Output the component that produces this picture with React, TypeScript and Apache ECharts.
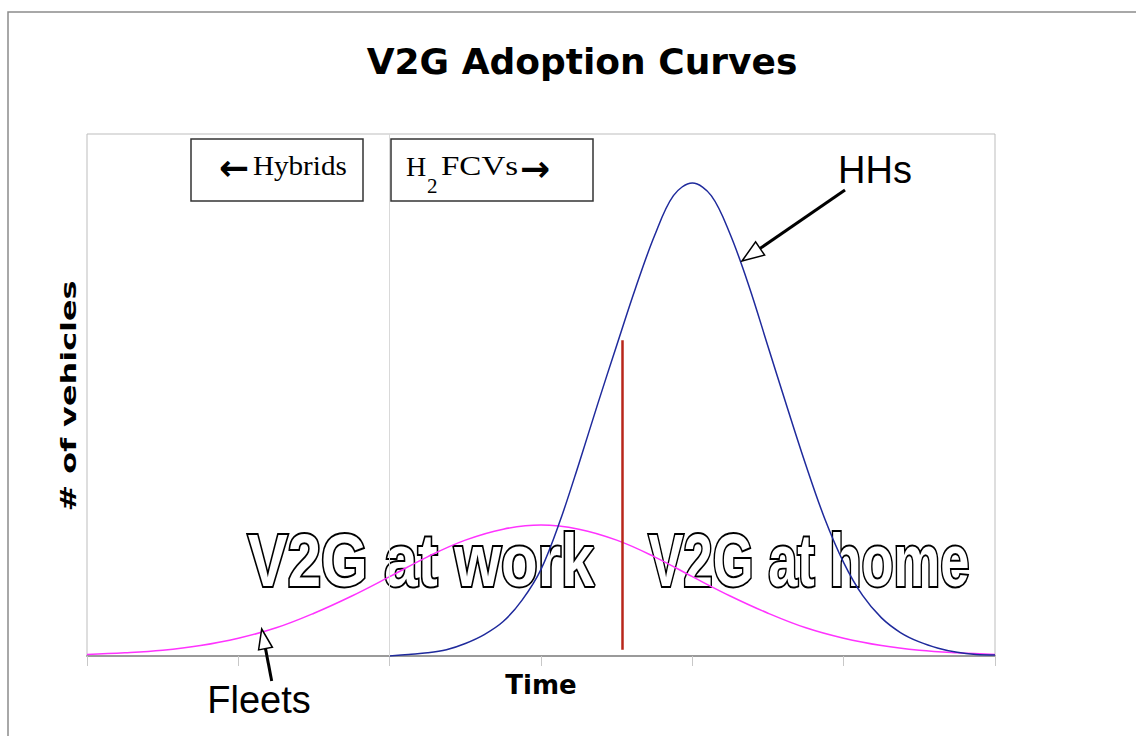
import React, { useEffect, useRef } from "react";
import * as echarts from "echarts";

// Time axis (arbitrary units, ticks at every unit)
const timeMin = 0;
const timeMax = 6;

// Fleets adoption curve
const fleetX = [0, 0.25, 0.5, 0.75, 1, 1.25, 1.5, 1.75, 2, 2.25, 2.5, 2.75, 3, 3.25, 3.5, 3.75, 4, 4.25, 4.5, 4.75, 5, 5.25, 5.5, 5.75, 6];
const fleetY = [0.3, 0.6, 1.1, 2.0, 3.4, 5.4, 8.2, 11.5, 15.2, 19.0, 22.2, 24.3, 25.1, 24.3, 22.2, 19.0, 15.2, 11.5, 8.2, 5.4, 3.4, 2.0, 1.1, 0.6, 0.3];

// Households (HHs) adoption curve
const hhX = [2, 2.125, 2.25, 2.375, 2.5, 2.625, 2.75, 2.875, 3, 3.125, 3.25, 3.375, 3.5, 3.625, 3.75, 3.875, 4, 4.125, 4.25, 4.375, 4.5, 4.625, 4.75, 4.875, 5, 5.125, 5.25, 5.375, 5.5, 5.625, 5.75, 5.875, 6];
const hhY = [0, 0.3, 0.6, 1.2, 2.4, 4.1, 6.6, 10.7, 16.6, 25.8, 36.8, 48.3, 59.5, 70.5, 80.5, 88.2, 90.6, 88.2, 80.8, 70.8, 59.3, 47.8, 36.6, 26.3, 17.9, 11.6, 7.3, 4.5, 2.7, 1.5, 0.7, 0.3, 0.2];

// Hybrids / H2FCVs boundary (vertical gridline) and V2G work/home divider
const techBoundaryX = 2;
const dividerX = 3.535;
const dividerTop = 60.5;
const dividerBottom = 1.2;

const SERIF = "'Liberation Serif', 'Times New Roman', serif";
const SANS = "'Liberation Sans', Arial, sans-serif";
const DEJAVU = "'DejaVu Sans', sans-serif";

export default function App() {
  const ref = useRef<HTMLDivElement>(null);

  useEffect(() => {
    if (!ref.current) return;
    const chart = echarts.init(ref.current, null, { renderer: "svg" });

    const fleets = fleetX.map((x, i) => [x, fleetY[i]]);
    const hhs = hhX.map((x, i) => [x, hhY[i]]);

    const outline = (text: string, x: number, sx: number) => ({
      type: "text",
      x,
      y: 560,
      scaleX: sx,
      z: 1,
      style: {
        text,
        font: "bold 75px " + SANS,
        fill: "#ffffff",
        stroke: "#000000",
        lineWidth: 4,
        textAlign: "center",
        textVerticalAlign: "middle",
      },
    });

    const label = (text: string, x: number, y: number, font: string, extra: any = {}) => ({
      type: "text",
      z: 2,
      x,
      y,
      ...extra,
      style: {
        text,
        font,
        fill: "#000",
        textAlign: "left",
        textVerticalAlign: "middle",
      },
    });

    chart.setOption({
      animation: false,
      backgroundColor: "#ffffff",
      title: {
        text: "V2G Adoption Curves",
        left: 577,
        top: 38,
        textAlign: "center",
        textStyle: {
          fontFamily: DEJAVU,
          fontWeight: "bold",
          fontSize: 36,
          color: "#000",
        },
      },
      grid: {
        left: 87,
        top: 134,
        width: 908,
        height: 522,
        show: true,
        borderColor: "#bdbdbd",
        borderWidth: 1,
        backgroundColor: "transparent",
      },
      xAxis: {
        type: "value",
        min: timeMin,
        max: timeMax,
        interval: 1,
        name: "Time",
        nameLocation: "middle",
        nameGap: 16,
        nameTextStyle: {
          fontFamily: DEJAVU,
          fontWeight: "bold",
          fontSize: 26,
          color: "#000",
          verticalAlign: "top",
        },
        axisLine: { show: true, lineStyle: { color: "#9a9a9a", width: 2 } },
        axisTick: { show: true, length: 10, lineStyle: { color: "#c8c8c8", width: 1 } },
        axisLabel: { show: false },
        splitLine: { show: false },
      },
      yAxis: {
        type: "value",
        min: 0,
        max: 100,
        axisLine: { show: false },
        axisTick: { show: false },
        axisLabel: { show: false },
        splitLine: { show: false },
      },
      series: [
        {
          name: "Fleets",
          type: "line",
          data: fleets,
          smooth: 0.4,
          symbol: "none",
          lineStyle: { color: "#ff33ff", width: 1.5 },
          z: 3,
          markLine: {
            silent: true,
            symbol: "none",
            label: { show: false },
            lineStyle: { color: "#d9d9d9", width: 1, type: "solid" },
            data: [{ xAxis: techBoundaryX }],
          },
        },
        {
          name: "HHs",
          type: "line",
          data: hhs,
          smooth: 0.35,
          symbol: "none",
          lineStyle: { color: "#1f2a9c", width: 1.5 },
          z: 4,
          markLine: {
            silent: true,
            symbol: "none",
            label: { show: false },
            lineStyle: { color: "#b8261a", width: 2.5, type: "solid" },
            data: [
              [
                { coord: [dividerX, dividerTop] },
                { coord: [dividerX, dividerBottom] },
              ],
            ],
          },
        },
      ],
      graphic: [
        {
          type: "rect",
          z: 0,
          shape: { x: 8, y: 12, width: 1300, height: 900 },
          style: { fill: "none", stroke: "#8c8c8c", lineWidth: 1.5 },
        },
        {
          type: "rect",
          z: 1,
          shape: { x: 191, y: 139, width: 172, height: 62 },
          style: { fill: "#ffffff", stroke: "#333333", lineWidth: 1.5 },
        },
        {
          type: "rect",
          z: 1,
          shape: { x: 391, y: 139, width: 202, height: 62 },
          style: { fill: "#ffffff", stroke: "#333333", lineWidth: 1.5 },
        },
        label("←", 219, 167, "bold 36px " + DEJAVU),
        label("Hybrids", 253, 166, "28px " + SERIF, { scaleX: 1.04 }),
        label("H", 406, 166, "28px " + SERIF),
        label("2", 427, 186, "21px " + SERIF),
        label("FCVs", 441, 166, "28px " + SERIF, { scaleX: 1.18 }),
        label("→", 520, 168, "bold 36px " + DEJAVU),
        {
          type: "text",
          z: 2,
          x: 68,
          y: 396,
          rotation: Math.PI / 2,
          scaleX: 1.45,
          style: {
            text: "# of vehicles",
            font: "bold 22px " + DEJAVU,
            fill: "#000",
            textAlign: "center",
            textVerticalAlign: "middle",
          },
        },
        outline("V2G at work", 421, 0.8),
        outline("V2G at home", 809, 0.7),
        {
          type: "text",
          z: 2,
          x: 875,
          y: 170,
          style: {
            text: "HHs",
            font: "38px " + SANS,
            fill: "#000",
            textAlign: "center",
            textVerticalAlign: "middle",
          },
        },
        {
          type: "line",
          z: 5,
          shape: { x1: 845, y1: 190, x2: 760, y2: 248.5 },
          style: { stroke: "#000", lineWidth: 3 },
        },
        {
          type: "polygon",
          z: 5,
          shape: { points: [[742, 261], [755.6, 241.9], [764.6, 255.1]] },
          style: { fill: "#ffffff", stroke: "#000", lineWidth: 1.5 },
        },
        {
          type: "text",
          z: 2,
          x: 259,
          y: 700,
          style: {
            text: "Fleets",
            font: "38px " + SANS,
            fill: "#000",
            textAlign: "center",
            textVerticalAlign: "middle",
          },
        },
        {
          type: "line",
          z: 5,
          shape: { x1: 271.7, y1: 681, x2: 265.5, y2: 648.6 },
          style: { stroke: "#000", lineWidth: 3 },
        },
        {
          type: "polygon",
          z: 5,
          shape: { points: [[261.7, 629], [272.4, 647.3], [258.6, 649.9]] },
          style: { fill: "#ffffff", stroke: "#000", lineWidth: 1.5 },
        },
      ],
    });

    return () => chart.dispose();
  }, []);

  return (
    <div
      ref={ref}
      style={{ position: "absolute", left: 0, top: 0, width: 1136, height: 736 }}
    />
  );
}
